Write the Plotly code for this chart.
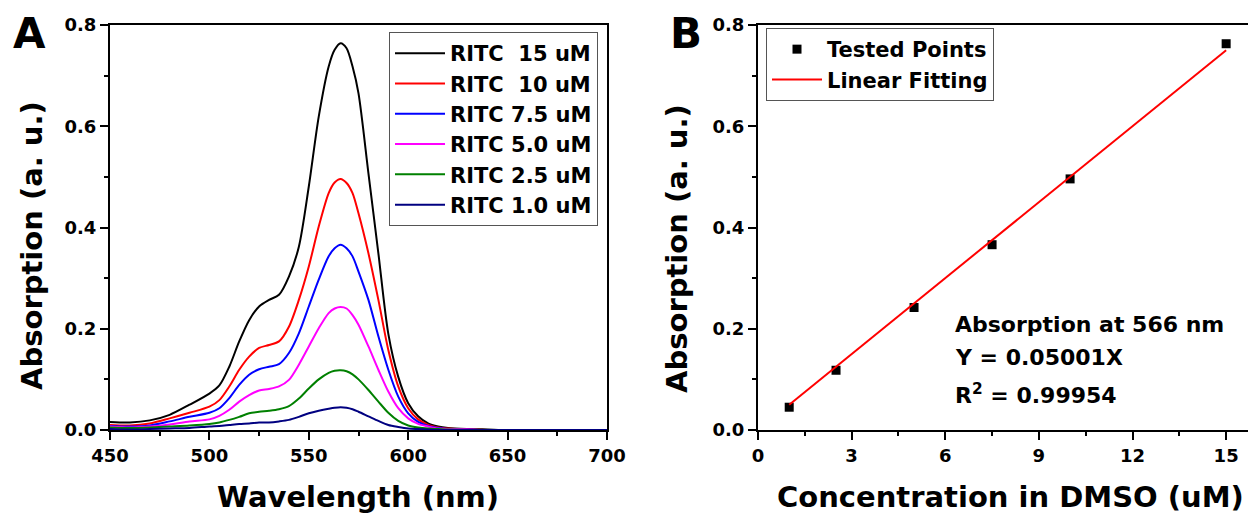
import plotly.graph_objects as go

# ---------------- Data ----------------
wavelength = [450, 460, 470, 480, 490, 500, 505, 510, 515, 520, 525, 530, 535, 540, 545,
              550, 555, 560, 563, 566, 569, 572, 575, 580, 585, 590, 595, 600, 605, 610,
              615, 620, 630, 640, 650, 675, 700]

ritc_15 = [0.016, 0.015, 0.019, 0.030, 0.050, 0.072, 0.088, 0.125, 0.175, 0.217, 0.244, 0.257,
           0.267, 0.303, 0.362, 0.481, 0.619, 0.718, 0.751, 0.764, 0.754, 0.718, 0.665, 0.507,
           0.349, 0.190, 0.105, 0.053, 0.027, 0.013, 0.007, 0.004, 0.002, 0.001, 0.0, 0.0, 0.0]
ritc_10 = [0.010, 0.009, 0.013, 0.023, 0.034, 0.046, 0.059, 0.086, 0.119, 0.145, 0.162, 0.168,
           0.175, 0.204, 0.257, 0.323, 0.402, 0.468, 0.489, 0.496, 0.488, 0.468, 0.428, 0.349,
           0.257, 0.158, 0.086, 0.043, 0.021, 0.010, 0.005, 0.003, 0.001, 0.0, 0.0, 0.0, 0.0]
ritc_7_5 = [0.008, 0.007, 0.009, 0.017, 0.026, 0.034, 0.043, 0.063, 0.089, 0.109, 0.120, 0.125,
            0.130, 0.152, 0.191, 0.244, 0.297, 0.343, 0.359, 0.366, 0.359, 0.343, 0.313, 0.257,
            0.185, 0.119, 0.066, 0.033, 0.016, 0.008, 0.004, 0.002, 0.001, 0.0, 0.0, 0.0, 0.0]
ritc_5_0 = [0.007, 0.005, 0.007, 0.011, 0.017, 0.021, 0.028, 0.040, 0.056, 0.069, 0.078, 0.081,
            0.086, 0.099, 0.129, 0.165, 0.201, 0.231, 0.240, 0.243, 0.240, 0.227, 0.208, 0.165,
            0.119, 0.076, 0.043, 0.023, 0.012, 0.007, 0.003, 0.002, 0.001, 0.0, 0.0, 0.0, 0.0]
ritc_2_5 = [0.005, 0.004, 0.005, 0.007, 0.009, 0.012, 0.015, 0.020, 0.026, 0.033, 0.036, 0.038,
            0.041, 0.047, 0.062, 0.082, 0.100, 0.113, 0.117, 0.118, 0.116, 0.110, 0.100, 0.079,
            0.056, 0.034, 0.018, 0.009, 0.005, 0.003, 0.002, 0.001, 0.0, 0.0, 0.0, 0.0, 0.0]
ritc_1_0 = [0.002, 0.001, 0.002, 0.003, 0.004, 0.007, 0.008, 0.010, 0.012, 0.013, 0.015, 0.015,
            0.017, 0.020, 0.026, 0.033, 0.038, 0.042, 0.044, 0.045, 0.044, 0.041, 0.036, 0.027,
            0.018, 0.010, 0.006, 0.003, 0.002, 0.001, 0.0, 0.0, 0.0, 0.0, 0.0, 0.0, 0.0]

spectra_names = ["RITC\u00a0\u00a015 uM", "RITC\u00a0\u00a010 uM", "RITC 7.5 uM",
                 "RITC 5.0 uM", "RITC 2.5 uM", "RITC 1.0 uM"]
spectra_values = [ritc_15, ritc_10, ritc_7_5, ritc_5_0, ritc_2_5, ritc_1_0]
spectra_colors = ["#000000", "#FF0000", "#0000FF", "#FF00FF", "#008000", "#000080"]

conc = [1.0, 2.5, 5.0, 7.5, 10.0, 15.0]
absorb_566 = [0.045, 0.118, 0.242, 0.366, 0.496, 0.763]
fit_slope = 0.05001
fit_x = [1.0, 15.0]
fit_y = [fit_slope * v for v in fit_x]

fit_text_lines = ["Absorption at 566 nm", "Y = 0.05001X", "R<sup>2</sup> = 0.99954"]
fit_text_y = [0.2075, 0.1423, 0.0711]

FONT = "DejaVu Sans, Liberation Sans, Arial, sans-serif"

fig = go.Figure()

for name, vals, col in zip(spectra_names, spectra_values, spectra_colors):
    fig.add_trace(go.Scatter(x=wavelength, y=vals, mode="lines", name=name,
                             line=dict(color=col, width=2, shape="spline", smoothing=0.8),
                             xaxis="x", yaxis="y", legend="legend"))

fig.add_trace(go.Scatter(x=conc, y=absorb_566, mode="markers", name="Tested Points",
                         marker=dict(symbol="square", size=9, color="black"),
                         xaxis="x2", yaxis="y2", legend="legend2"))
fig.add_trace(go.Scatter(x=fit_x, y=fit_y, mode="lines", name="Linear Fitting",
                         line=dict(color="#FF0000", width=2),
                         xaxis="x2", yaxis="y2", legend="legend2"))

axis_common = dict(showline=True, linecolor="black", linewidth=2, ticks="outside",
                   ticklen=8, tickwidth=2, tickcolor="black", showgrid=False, zeroline=False,
                   automargin=False,
                   tickfont=dict(family=FONT, size=18, color="black", weight="bold"))

ydom = [1 - 430 / 514, 1 - 25 / 514]

fig.update_layout(
    template="none",
    width=1248, height=514,
    margin=dict(l=0, r=0, t=0, b=0, autoexpand=False),
    paper_bgcolor="white", plot_bgcolor="white",
    xaxis=dict(domain=[110 / 1248, 607 / 1248], range=[450, 700], dtick=50, tick0=450,
               mirror=True, anchor="y",
               minor=dict(dtick=25, ticks="outside", ticklen=4, tickwidth=2, tickcolor="black"),
               **axis_common),
    yaxis=dict(domain=ydom, range=[0, 0.8], dtick=0.2, tickformat=".1f", mirror=True, anchor="x",
               minor=dict(dtick=0.1, ticks="outside", ticklen=4, tickwidth=2, tickcolor="black"),
               **axis_common),
    xaxis2=dict(domain=[758 / 1248, 1.0], range=[0, 15.7], dtick=3, tick0=0,
                mirror=True, anchor="y2",
                minor=dict(dtick=1.5, ticks="outside", ticklen=4, tickwidth=2, tickcolor="black"),
                **axis_common),
    yaxis2=dict(domain=ydom, range=[0, 0.8], dtick=0.2, tickformat=".1f", mirror=False, anchor="x2",
                minor=dict(dtick=0.1, ticks="outside", ticklen=4, tickwidth=2, tickcolor="black"),
                **axis_common),
    legend=dict(x=389 / 1248, y=1 - 32 / 514, xanchor="left", yanchor="top",
                bordercolor="#555555", borderwidth=1, bgcolor="white",
                font=dict(family=FONT, size=21, color="black", weight="bold"),
                itemwidth=50, tracegroupgap=0),
    legend2=dict(x=766 / 1248, y=1 - 28 / 514, xanchor="left", yanchor="top",
                 bordercolor="#555555", borderwidth=1, bgcolor="white",
                 font=dict(family=FONT, size=21, color="black", weight="bold"),
                 itemwidth=50, tracegroupgap=0),
    showlegend=True,
)

title_font = dict(family=FONT, size=29, color="black", weight="bold")
annos = [
    dict(text="Absorption (a. u.)", x=32 / 1248, y=1 - 246 / 514, textangle=-90, font=title_font),
    dict(text="Absorption (a. u.)", x=677 / 1248, y=1 - 249 / 514, textangle=-90, font=title_font),
    dict(text="Wavelength (nm)", x=358 / 1248, y=1 - 497 / 514, font=title_font),
    dict(text="Concentration in DMSO (uM)", x=1010 / 1248, y=1 - 497 / 514, font=title_font),
    dict(text="A", x=29 / 1248, y=1 - 33 / 514, font=dict(family=FONT, size=42, color="black", weight="bold")),
    dict(text="B", x=686 / 1248, y=1 - 33 / 514, font=dict(family=FONT, size=42, color="black", weight="bold")),
]
for a in annos:
    fig.add_annotation(xref="paper", yref="paper", xanchor="center", yanchor="middle",
                       showarrow=False, **a)

for line_text, ly in zip(fit_text_lines, fit_text_y):
    fig.add_annotation(xref="x2", yref="y2", x=6.25, y=ly, xanchor="left", yanchor="middle",
                       align="left", showarrow=False, text=line_text,
                       font=dict(family=FONT, size=22, color="black", weight="bold"))

fig.write_html("out.html")
